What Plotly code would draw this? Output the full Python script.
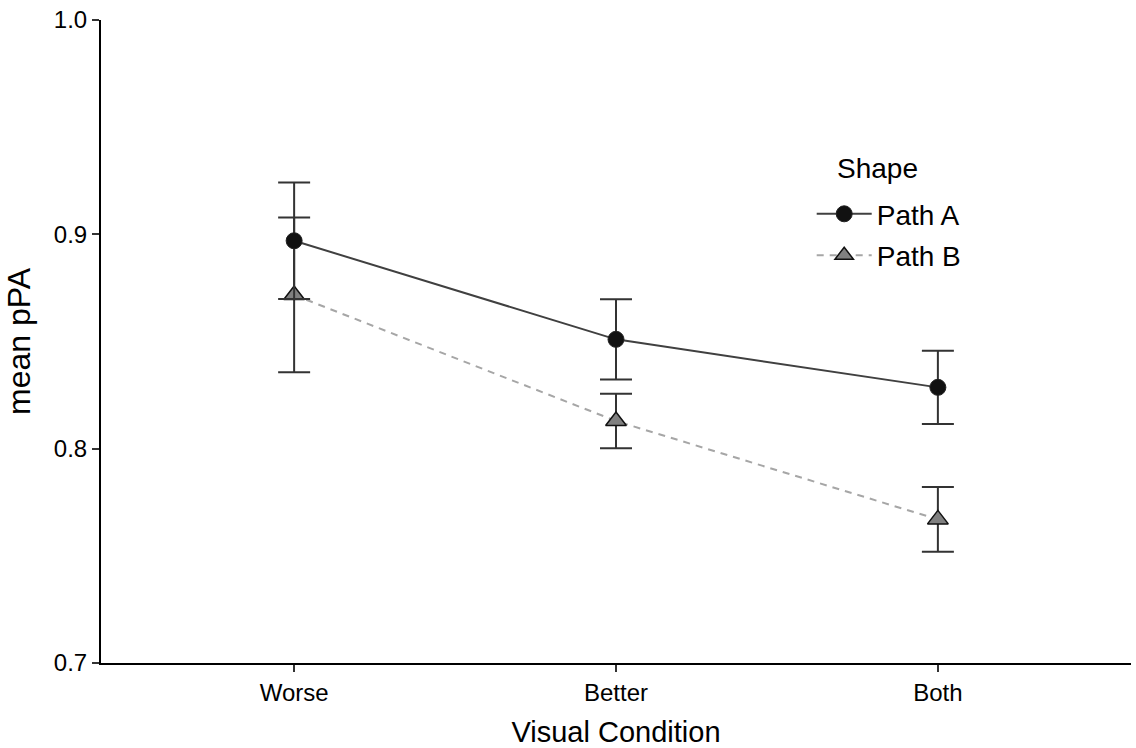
import plotly.graph_objects as go

conditions = ["Worse", "Better", "Both"]

path_a_mean = [0.897, 0.851, 0.8286]
path_a_err = [0.0272, 0.0187, 0.0171]

path_b_mean = [0.8717, 0.8129, 0.767]
path_b_err = [0.0361, 0.0127, 0.0151]

y_ticks = [0.7, 0.8, 0.9, 1.0]

FONT = "Liberation Sans, Arial, sans-serif"

fig = go.Figure()

fig.add_trace(go.Scatter(
    x=conditions, y=path_b_mean, name="Path B",
    mode="lines+markers",
    line=dict(color="#a6a6a6", width=2, dash="7px,6px"),
    marker=dict(symbol="triangle-up", size=18, color="#808080",
                line=dict(color="#111111", width=1.5)),
    error_y=dict(type="data", array=path_b_err, visible=True,
                 color="#333333", thickness=2, width=16),
    legendrank=2, legendgroup="b",
))

fig.add_trace(go.Scatter(
    x=conditions, y=path_a_mean, name="Path A",
    mode="lines+markers",
    line=dict(color="#404040", width=2),
    marker=dict(symbol="circle", size=16, color="#111111",
                line=dict(color="#222222", width=1)),
    error_y=dict(type="data", array=path_a_err, visible=True,
                 color="#333333", thickness=2, width=16),
    legendrank=1, legendgroup="a",
))

# legend heading drawn as its own text so it can sit above the entries
fig.add_annotation(
    text="Shape", xref="paper", yref="paper",
    x=0.7126, y=0.7698, xanchor="left", yanchor="middle",
    showarrow=False, font=dict(size=28, color="black"),
)

fig.update_layout(
    width=1136, height=748,
    margin=dict(l=101, r=5, t=20, b=85),
    paper_bgcolor="white", plot_bgcolor="white",
    font=dict(family=FONT, color="black"),
    legend=dict(
        font=dict(size=28),
        x=0.690, y=0.737, xanchor="left", yanchor="top",
        bgcolor="rgba(0,0,0,0)",
        tracegroupgap=2,
        itemwidth=55,
    ),
    showlegend=True,
)

fig.update_xaxes(
    type="category", range=[-0.6, 2.6],
    showline=True, linecolor="black", linewidth=2,
    ticks="outside", ticklen=7, tickwidth=2, tickcolor="#333333",
    tickfont=dict(size=24, color="black"),
    showgrid=False, zeroline=False, automargin=False,
    title=dict(text="Visual Condition", font=dict(size=29), standoff=20),
)

fig.update_yaxes(
    range=[0.7, 1.0],
    tickvals=y_ticks, ticktext=[f"{v:.1f}" for v in y_ticks],
    showline=True, linecolor="black", linewidth=2,
    ticks="outside", ticklen=7, tickwidth=2, tickcolor="#333333",
    tickfont=dict(size=24, color="black"),
    showgrid=False, zeroline=False, automargin=False,
    title=dict(text="mean pPA", font=dict(size=32), standoff=14),
)

fig.write_html("out.html")
